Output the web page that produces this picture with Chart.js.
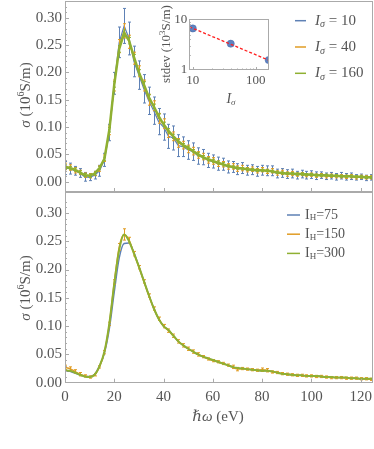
<!DOCTYPE html>
<html>
<head>
<meta charset="utf-8">
<script src="https://cdn.jsdelivr.net/npm/chart.js@4.4.1/dist/chart.umd.min.js"></script>
<style>
body{margin:0;background:#fff}
#wrap{position:relative;width:374px;height:449px}
#wrap canvas{position:absolute;left:0;top:0}
</style>
</head>
<body>
<div id="wrap">
<canvas id="topChart" width="374" height="449"></canvas>
<canvas id="botChart" width="374" height="449"></canvas>
<canvas id="insetChart" width="374" height="449"></canvas>
</div>
<script>
// photon energy (eV)
const energy = [0,2,4,6,8,10,12,14,16,18,20,22,24,26,28,30,32,34,36,38,40,42,44,46,48,50,52,54,56,58,60,62,
  64,66,68,70,72,74,76,78,80,82,84,86,88,90,92,94,96,98,100,102,104,106,108,110,112,114,116,118,120,122,124,126];

// top panel, sigma (10^6 S/m) for I_sigma = 10, 40, 160
const topBlue = [0.025,0.024,0.020,0.016,0.009,0.008,0.012,0.020,
  0.040,0.090,0.180,0.255,0.285,0.262,0.220,0.195,
  0.170,0.148,0.130,0.110,0.100,0.083,0.080,0.066,
  0.064,0.058,0.055,0.047,0.045,0.039,0.037,0.033,
  0.032,0.027,0.027,0.023,0.025,0.021,0.022,0.019,
  0.021,0.020,0.020,0.015,0.016,0.014,0.015,0.012,
  0.014,0.012,0.013,0.011,0.012,0.010,0.011,0.009,
  0.011,0.009,0.010,0.008,0.009,0.007,0.008,0.007];
const topBlueErr = [0.012,0.010,0.008,0.008,0.008,0.006,0.007,0.010,
  0.012,0.015,0.020,0.028,0.032,0.030,0.028,0.026,
  0.026,0.025,0.025,0.024,0.024,0.022,0.022,0.020,
  0.018,0.017,0.016,0.015,0.014,0.013,0.012,0.012,
  0.011,0.011,0.010,0.010,0.010,0.009,0.009,0.009,
  0.009,0.009,0.009,0.008,0.008,0.008,0.008,0.007,
  0.007,0.007,0.007,0.007,0.006,0.006,0.006,0.006,
  0.006,0.006,0.006,0.005,0.005,0.005,0.005,0.005];
const topOrange = [0.028,0.026,0.021,0.017,0.012,0.011,0.015,0.024,
  0.043,0.094,0.176,0.248,0.276,0.256,0.226,0.202,
  0.176,0.150,0.139,0.116,0.106,0.089,0.083,0.071,
  0.067,0.060,0.056,0.049,0.046,0.040,0.038,0.033,
  0.032,0.028,0.028,0.024,0.025,0.022,0.023,0.020,
  0.022,0.019,0.020,0.016,0.017,0.014,0.015,0.013,
  0.014,0.012,0.013,0.011,0.012,0.010,0.011,0.010,
  0.010,0.009,0.010,0.008,0.009,0.008,0.008,0.008];
const topOrangeErr = [0.006,0.005,0.005,0.004,0.004,0.004,0.004,0.005,
  0.006,0.008,0.010,0.012,0.013,0.012,0.011,0.010,
  0.010,0.010,0.009,0.009,0.009,0.008,0.008,0.008,
  0.007,0.007,0.007,0.006,0.006,0.006,0.006,0.005,
  0.005,0.005,0.005,0.005,0.005,0.004,0.004,0.004,
  0.004,0.004,0.004,0.004,0.004,0.004,0.004,0.003,
  0.003,0.003,0.003,0.003,0.003,0.003,0.003,0.003,
  0.003,0.003,0.003,0.003,0.003,0.003,0.003,0.003];
const topGreen = [0.027,0.025,0.022,0.017,0.012,0.011,0.015,0.025,
  0.042,0.095,0.178,0.243,0.272,0.258,0.228,0.200,
  0.178,0.155,0.138,0.120,0.105,0.093,0.083,0.074,
  0.067,0.062,0.056,0.050,0.045,0.041,0.038,0.035,
  0.032,0.029,0.027,0.025,0.024,0.023,0.022,0.021,
  0.021,0.020,0.019,0.017,0.016,0.015,0.015,0.014,
  0.014,0.013,0.013,0.012,0.012,0.012,0.011,0.011,
  0.010,0.010,0.010,0.009,0.009,0.008,0.008,0.008];
const topGreenErr = [0.004,0.003,0.003,0.003,0.003,0.003,0.003,0.003,
  0.003,0.004,0.005,0.006,0.006,0.006,0.005,0.005,
  0.005,0.004,0.004,0.004,0.004,0.004,0.004,0.003,
  0.003,0.003,0.003,0.003,0.003,0.003,0.003,0.003,
  0.003,0.002,0.002,0.002,0.002,0.002,0.002,0.002,
  0.002,0.002,0.002,0.002,0.002,0.002,0.002,0.002,
  0.002,0.002,0.002,0.002,0.002,0.002,0.002,0.002,
  0.002,0.002,0.002,0.002,0.002,0.002,0.002,0.002];

// bottom panel, I_H = 75, 150, 300
const botBlue = [0.021,0.020,0.017,0.014,0.011,0.011,0.015,0.030,
  0.052,0.095,0.160,0.220,0.246,0.247,0.230,0.205,
  0.180,0.155,0.132,0.113,0.100,0.093,0.083,0.073,
  0.066,0.060,0.055,0.050,0.046,0.043,0.040,0.037,
  0.034,0.031,0.028,0.026,0.025,0.024,0.023,0.022,
  0.021,0.021,0.020,0.018,0.016,0.015,0.014,0.013,
  0.013,0.012,0.012,0.012,0.011,0.010,0.010,0.009,
  0.009,0.009,0.008,0.008,0.007,0.007,0.007,0.007];
const botOrange = [0.027,0.025,0.020,0.015,0.012,0.010,0.014,0.028,
  0.054,0.104,0.178,0.240,0.262,0.252,0.228,0.204,
  0.179,0.154,0.131,0.113,0.100,0.092,0.083,0.073,
  0.066,0.060,0.055,0.050,0.046,0.042,0.039,0.037,
  0.034,0.031,0.028,0.024,0.025,0.024,0.023,0.022,
  0.023,0.022,0.019,0.018,0.016,0.015,0.014,0.013,
  0.013,0.012,0.012,0.011,0.011,0.010,0.009,0.009,
  0.009,0.008,0.008,0.008,0.007,0.007,0.006,0.006];
const botOrangeErr = [0.004,0.003,0.003,0.003,0.002,0.002,0.002,0.002,
  0.003,0.003,0.004,0.006,0.010,0.005,0.004,0.003,
  0.003,0.003,0.003,0.003,0.003,0.003,0.003,0.003,
  0.003,0.003,0.003,0.003,0.002,0.002,0.002,0.002,
  0.002,0.002,0.003,0.003,0.002,0.002,0.002,0.002,
  0.003,0.003,0.002,0.002,0.002,0.002,0.002,0.002,
  0.002,0.002,0.002,0.002,0.002,0.002,0.002,0.002,
  0.002,0.002,0.002,0.002,0.002,0.002,0.002,0.002];
const botGreen = [0.022,0.021,0.018,0.014,0.011,0.010,0.014,0.029,
  0.055,0.105,0.175,0.235,0.262,0.250,0.228,0.205,
  0.180,0.155,0.132,0.113,0.100,0.093,0.083,0.073,
  0.066,0.060,0.055,0.050,0.046,0.043,0.040,0.037,
  0.034,0.031,0.028,0.026,0.025,0.024,0.023,0.022,
  0.021,0.021,0.020,0.018,0.016,0.015,0.014,0.013,
  0.013,0.012,0.012,0.012,0.011,0.010,0.010,0.009,
  0.009,0.009,0.008,0.008,0.007,0.007,0.007,0.007];

// inset: stdev vs I_sigma
const isigma = [10, 40, 160];
const stdev = [6.6, 3.3, 1.57];
const fitX = [8.8, 162];
const fitY = [7.1, 1.55];

const xTicks = [0, 20, 40, 60, 80, 100, 120];
const yTicks = [0, 0.05, 0.10, 0.15, 0.20, 0.25, 0.30];
const topLegend = ['10', '40', '160'];
const botLegend = ['75', '150', '300'];

const blue = '#5E81B5', orange = '#E19C24', green = '#8FB032';
const serif = '"Liberation Serif", "DejaVu Serif", serif';
const ink = '#555';
const frameCol = '#aaa';

function pts(xs, ys) { return xs.map((x, i) => ({x: x, y: ys[i]})); }

function fnt(p) { return (p.it ? 'italic ' : '') + p.s + 'px ' + serif; }
function rich(ctx, parts, x, y, center) {
  let w = 0;
  parts.forEach(p => { ctx.font = fnt(p); w += ctx.measureText(p.t).width; });
  let cx = center ? x - w / 2 : x;
  parts.forEach(p => {
    ctx.font = fnt(p);
    ctx.fillText(p.t, cx, y + (p.dy || 0));
    cx += ctx.measureText(p.t).width;
  });
}

// error bars drawn right after their own dataset
const errorBars = {
  id: 'errorBars',
  afterDatasetDraw(chart, args) {
    const ds = chart.data.datasets[args.index];
    if (!ds.errs) return;
    const {ctx, chartArea: a, scales: {x, y}} = chart;
    ctx.save();
    ctx.beginPath();
    ctx.rect(a.left, a.top, a.width, a.height);
    ctx.clip();
    ctx.strokeStyle = ds.borderColor;
    ctx.lineWidth = 1;
    ctx.beginPath();
    ds.data.forEach((p, i) => {
      const e = ds.errs[i];
      const px = Math.round(x.getPixelForValue(p.x)) + 0.5;
      const y1 = y.getPixelForValue(p.y + e), y2 = y.getPixelForValue(p.y - e);
      ctx.moveTo(px, y1); ctx.lineTo(px, y2);
      ctx.moveTo(px - 1.5, y1); ctx.lineTo(px + 1.5, y1);
      ctx.moveTo(px - 1.5, y2); ctx.lineTo(px + 1.5, y2);
    });
    ctx.stroke();
    ctx.restore();
  }
};

// frame and inward ticks
const frame = {
  id: 'frame',
  afterDraw(chart) {
    const {ctx, chartArea: a, scales: {x, y}} = chart;
    ctx.save();
    ctx.strokeStyle = frameCol;
    ctx.lineWidth = 1;
    ctx.strokeRect(Math.round(a.left) + 0.5, Math.round(a.top) + 0.5, Math.round(a.width) - 1, Math.round(a.height) - 1);
    ctx.beginPath();
    xTicks.forEach(v => {
      const px = Math.round(x.getPixelForValue(v)) + 0.5;
      ctx.moveTo(px, a.bottom); ctx.lineTo(px, a.bottom - 4);
    });
    for (let v = 0; v <= 0.33; v += 0.01) {
      const py = Math.round(y.getPixelForValue(v)) + 0.5;
      if (py < a.top || py > a.bottom) continue;
      const major = Math.abs(v * 20 - Math.round(v * 20)) < 1e-6;
      ctx.moveTo(a.left, py); ctx.lineTo(a.left + (major ? 4 : 2), py);
    }
    ctx.stroke();
    ctx.restore();
  }
};

function yAxis(min, max) {
  return {
    min: min, max: max,
    afterBuildTicks(s) { s.ticks = yTicks.map(v => ({value: v})); },
    ticks: {padding: 3, color: ink, font: {family: serif, size: 15}, callback: v => v.toFixed(2)},
    grid: {display: false, drawTicks: false},
    border: {display: false},
    afterFit(s) { s.width = 65; s.paddingTop = 0; s.paddingBottom = 0; }
  };
}

function yTitle(ctx, cy) {
  ctx.save();
  ctx.translate(26, cy);
  ctx.rotate(-Math.PI / 2);
  rich(ctx, [{t: 'σ', it: 1, s: 15}, {t: ' (10', s: 15}, {t: '6', s: 10, dy: -5}, {t: 'S/m)', s: 15}], 0, 0, true);
  ctx.restore();
}

const topText = {
  id: 'topText',
  afterDraw(chart) {
    const ctx = chart.ctx;
    ctx.save();
    ctx.fillStyle = ink;
    ctx.textBaseline = 'middle';
    yTitle(ctx, 95);
    const cols = [blue, orange, green];
    topLegend.forEach((lab, i) => {
      const ly = 20.7 + i * 26.3;
      ctx.strokeStyle = cols[i]; ctx.lineWidth = 1.5;
      ctx.beginPath(); ctx.moveTo(295, ly); ctx.lineTo(306, ly); ctx.stroke();
      rich(ctx, [{t: 'I', it: 1, s: 15}, {t: 'σ', it: 1, s: 10, dy: 4}, {t: ' = ' + lab, s: 15}], 315, ly);
    });
    ctx.restore();
  }
};

const botText = {
  id: 'botText',
  afterDraw(chart) {
    const ctx = chart.ctx;
    ctx.save();
    ctx.fillStyle = ink;
    ctx.textBaseline = 'middle';
    yTitle(ctx, 288);
    rich(ctx, [{t: 'ℏω', it: 1, s: 15}, {t: ' (eV)', s: 15}], 218, 417, true);
    const cols = [blue, orange, green];
    botLegend.forEach((lab, i) => {
      const ly = 215 + i * 19.2;
      ctx.strokeStyle = cols[i]; ctx.lineWidth = 1.5;
      ctx.beginPath(); ctx.moveTo(287, ly); ctx.lineTo(300, ly); ctx.stroke();
      rich(ctx, [{t: 'I', s: 14}, {t: 'H', s: 9, dy: 3}, {t: '=' + lab, s: 14}], 305, ly);
    });
    ctx.restore();
  }
};

function series(ys, errs, color, width, order) {
  return {
    data: pts(energy, ys), errs: errs, borderColor: color, backgroundColor: color,
    borderWidth: width, pointRadius: 0, tension: 0, order: order
  };
}

new Chart(document.getElementById('topChart'), {
  type: 'line',
  data: {datasets: [
    series(topBlue, topBlueErr, blue, 1.2, 3),
    series(topOrange, topOrangeErr, orange, 1.2, 2),
    series(topGreen, topGreenErr, green, 2.5, 1)
  ]},
  options: {
    responsive: false, animation: false,
    layout: {padding: {left: 0, right: 1, top: 1, bottom: 0}},
    plugins: {legend: {display: false}, tooltip: {enabled: false}},
    scales: {
      x: {
        type: 'linear', min: 0, max: 125,
        ticks: {display: false}, grid: {display: false, drawTicks: false}, border: {display: false},
        afterFit(s) { s.height = 257; s.paddingLeft = 0; s.paddingRight = 0; }
      },
      y: yAxis(-0.0188, 0.3306)
    }
  },
  plugins: [errorBars, frame, topText]
});

new Chart(document.getElementById('botChart'), {
  type: 'line',
  data: {datasets: [
    Object.assign(series(botBlue, null, blue, 1.4, 3), {cubicInterpolationMode: 'monotone'}),
    Object.assign(series(botOrange, botOrangeErr, orange, 1.4, 2), {cubicInterpolationMode: 'monotone'}),
    Object.assign(series(botGreen, null, green, 2, 1), {cubicInterpolationMode: 'monotone'})
  ]},
  options: {
    responsive: false, animation: false,
    layout: {padding: {left: 0, right: 1, top: 192, bottom: 0}},
    plugins: {legend: {display: false}, tooltip: {enabled: false}},
    scales: {
      x: {
        type: 'linear', min: 0, max: 125,
        afterBuildTicks(s) { s.ticks = xTicks.map(v => ({value: v})); },
        ticks: {padding: 5, color: ink, font: {family: serif, size: 15}, maxRotation: 0},
        grid: {display: false, drawTicks: false}, border: {display: false},
        afterFit(s) { s.height = 66.3; s.paddingLeft = 0; s.paddingRight = 0; }
      },
      y: yAxis(0, 0.337)
    }
  },
  plugins: [errorBars, frame, botText]
});

// inset (log-log)
const insetDeco = {
  id: 'insetDeco',
  afterDraw(chart) {
    const {ctx, chartArea: a, scales: {x, y}} = chart;
    ctx.save();
    ctx.strokeStyle = frameCol;
    ctx.lineWidth = 1;
    ctx.strokeRect(Math.round(a.left) + 0.5, Math.round(a.top) + 0.5, Math.round(a.width) - 1, Math.round(a.height) - 1);
    ctx.beginPath();
    [10, 100].forEach(v => { const px = Math.round(x.getPixelForValue(v)) + 0.5; ctx.moveTo(px, a.bottom); ctx.lineTo(px, a.bottom - 3); });
    [20, 30, 40, 50, 60, 70, 80, 90].forEach(v => { const px = Math.round(x.getPixelForValue(v)) + 0.5; ctx.moveTo(px, a.bottom); ctx.lineTo(px, a.bottom - 1.5); });
    [2, 3, 4, 5, 6, 7, 8, 9].forEach(v => { const py = Math.round(y.getPixelForValue(v)) + 0.5; ctx.moveTo(a.left, py); ctx.lineTo(a.left + 1.5, py); });
    ctx.stroke();
    ctx.fillStyle = ink;
    ctx.textBaseline = 'middle';
    ctx.translate(166.5, 44);
    ctx.rotate(-Math.PI / 2);
    rich(ctx, [{t: 'stdev (10', s: 13}, {t: '3', s: 9, dy: -4}, {t: 'S/m)', s: 13}], 0, 0, true);
    ctx.setTransform(1, 0, 0, 1, 0, 0);
    rich(ctx, [{t: 'I', it: 1, s: 14}, {t: 'σ', it: 1, s: 9, dy: 4}], 231, 99, true);
    ctx.restore();
  }
};

new Chart(document.getElementById('insetChart'), {
  type: 'scatter',
  data: {datasets: [
    {type: 'line', data: pts(fitX, fitY), borderColor: '#ff2020', borderWidth: 1.3, borderDash: [3, 2], pointRadius: 0, order: 0},
    {data: pts(isigma, stdev), backgroundColor: '#5d82c0', borderColor: '#4d6fae', borderWidth: 0.5, pointRadius: 3.6, order: 1}
  ]},
  options: {
    responsive: false, animation: false,
    layout: {padding: {left: 0, right: 105, top: 19.3, bottom: 0}},
    plugins: {legend: {display: false}, tooltip: {enabled: false}},
    scales: {
      x: {
        type: 'logarithmic', min: 8.8, max: 162,
        afterBuildTicks(s) { s.ticks = [10, 100].map(v => ({value: v})); },
        ticks: {padding: 3, color: ink, font: {family: serif, size: 13}, callback: v => String(v)},
        grid: {display: false, drawTicks: false}, border: {display: false},
        afterFit(s) { s.height = 379; s.paddingLeft = 0; s.paddingRight = 0; }
      },
      y: {
        type: 'logarithmic', min: 1, max: 10,
        afterBuildTicks(s) { s.ticks = [1, 10].map(v => ({value: v})); },
        ticks: {padding: 2, color: ink, font: {family: serif, size: 13}, callback: v => String(v)},
        grid: {display: false, drawTicks: false}, border: {display: false},
        afterFit(s) { s.width = 189.3; s.paddingTop = 0; s.paddingBottom = 0; }
      }
    }
  },
  plugins: [insetDeco]
});
</script>
</body>
</html>
